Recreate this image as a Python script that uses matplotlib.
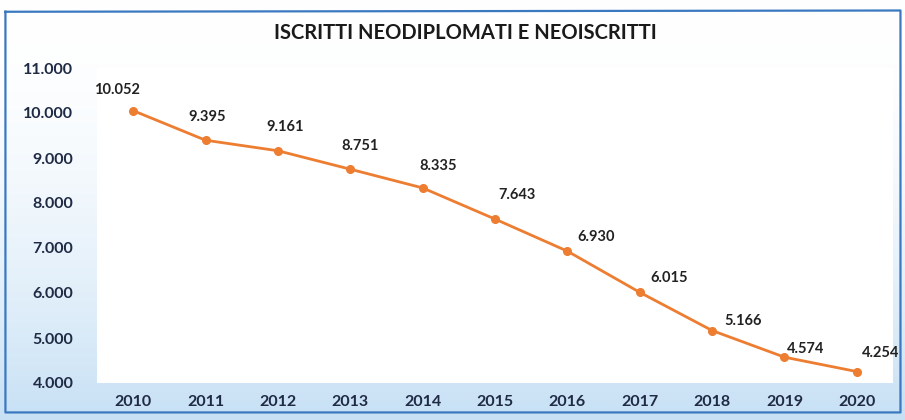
import numpy as np
import matplotlib
matplotlib.use("Agg")
import matplotlib.pyplot as plt
from matplotlib.ticker import FuncFormatter

# data
years = ["2010", "2011", "2012", "2013", "2014", "2015",
         "2016", "2017", "2018", "2019", "2020"]
iscritti = [10052, 9395, 9161, 8751, 8335, 7643, 6930, 6015, 5166, 4574, 4254]
labels = ["10.052", "9.395", "9.161", "8.751", "8.335", "7.643",
          "6.930", "6.015", "5.166", "4.574", "4.254"]

# label offsets (points) relative to each marker
label_off = [(-12, 10), (1, 12), (5, 12), (7, 12), (11, 11), (16, 12),
             (21, 5), (21, 5), (22, 2), (15, 1), (17, 8)]

navy = "#1f2a44"
orange = "#ed7d31"
plt.rcParams['font.family'] = ['Lato', 'DejaVu Sans']

fig = plt.figure(figsize=(9.05, 4.2), dpi=100)

# background gradient white -> light blue
bg = fig.add_axes((0, 0, 1, 1), zorder=-10)
grad = np.linspace(0, 1, 256).reshape(-1, 1)
top = np.array([1.0, 1.0, 1.0])
bot = np.array([0.78, 0.88, 0.96])
img = top + (bot - top) * grad[:, :, None] ** 1.8
bg.imshow(img, aspect='auto', extent=(0, 1, 0, 1), origin='upper')
bg.set_xlim(0, 1)
bg.set_ylim(0, 1)
bg.axis('off')
# frame border
bg.plot([0.006, 0.995, 0.995, 0.006, 0.006],
        [0.972, 0.975, 0.018, 0.018, 0.972],
        color="#3a78c0", lw=1.6, transform=bg.transAxes)

ax = fig.add_axes((97/905, 1 - 383/420, 796/905, 315/420))
ax.set_facecolor("white")
x = np.arange(len(years))
ax.plot(x, iscritti, color=orange, lw=2, marker='o', ms=5.5,
        markerfacecolor=orange, markeredgecolor=orange)

for xi, yi, lab, off in zip(x, iscritti, labels, label_off):
    ax.annotate(lab, (xi, yi), xytext=off, textcoords='offset points',
                ha='center', va='bottom', fontsize=10.5, fontweight='bold',
                color="#222222")

ax.set_xlim(-0.5, len(years) - 0.5)
ax.set_ylim(4000, 11000)
ax.set_yticks(range(4000, 11001, 1000))
ax.yaxis.set_major_formatter(FuncFormatter(lambda v, p: f"{int(v):,}".replace(",", ".")))
ax.set_xticks(x)
ax.set_xticklabels(years)
for s in ax.spines.values():
    s.set_visible(False)
ax.tick_params(axis='both', length=0, colors=navy, labelsize=11.5)
ax.tick_params(axis='y', pad=17)
ax.tick_params(axis='x', pad=9)
for t in ax.get_xticklabels() + ax.get_yticklabels():
    t.set_fontweight('bold')

fig.text(465/905, 1 - 33/420, "ISCRITTI NEODIPLOMATI E NEOISCRITTI",
         ha='center', va='center', fontsize=14.5, fontweight='bold', color="#1a1a1a")

fig.savefig("out.png", dpi=100)
